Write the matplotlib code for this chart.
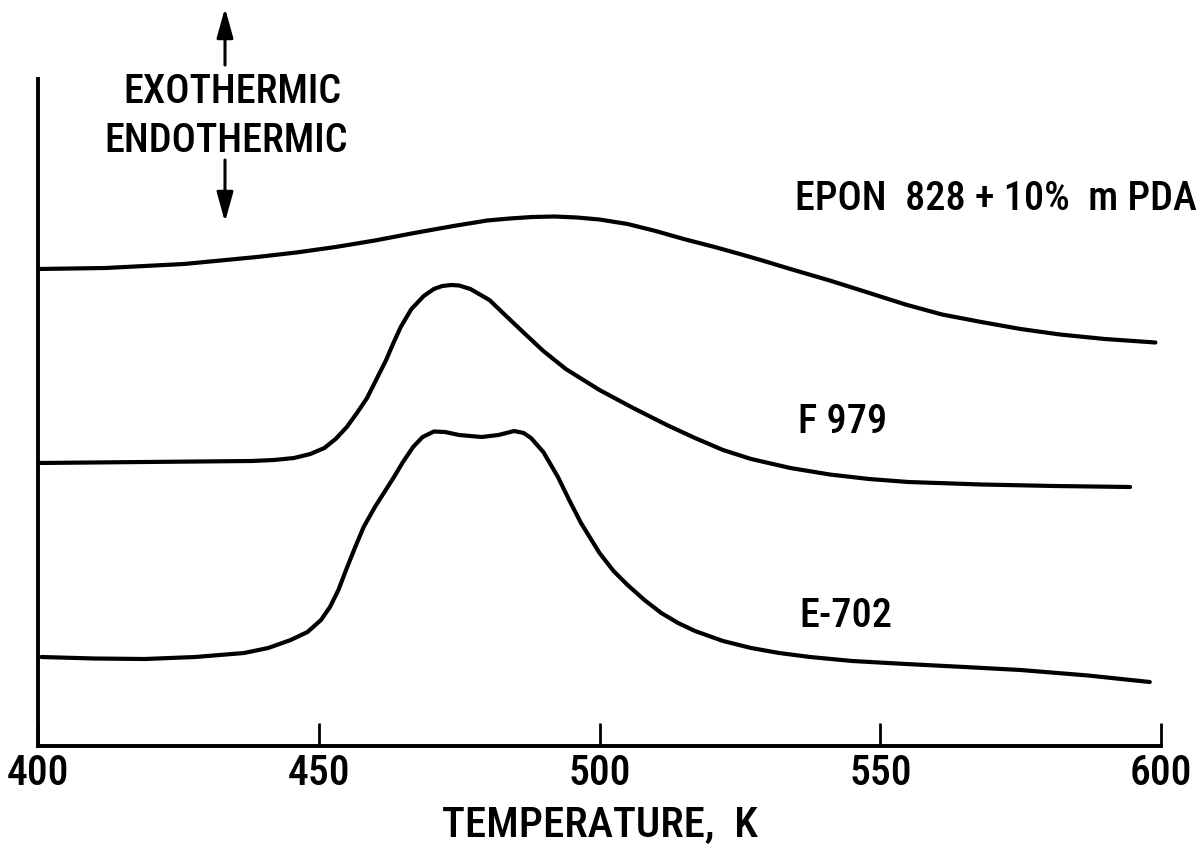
import matplotlib
matplotlib.use("Agg")
import matplotlib.pyplot as plt
from matplotlib import font_manager
from matplotlib.font_manager import FontProperties

# ---------------- data ----------------
# temperature in K, DSC signal in arbitrary units (exothermic up)
epon_T = [400, 412, 426, 439, 446, 453, 460, 467, 474, 480, 484, 488, 492, 496,
          500, 505, 510, 515, 520.5, 525, 529, 534, 541, 547.5, 554.5, 561,
          568, 575, 582, 590, 599]
epon_S = [477, 478, 482, 489, 493.5, 499, 505.5, 513, 520, 525.5, 527.5, 529,
          529.5, 528.5, 526.5, 522, 515, 507, 499, 492, 485.5, 477, 465.5, 454,
          441.5, 431.5, 424, 417, 411.5, 407, 403.5]

f979_T = [400, 419, 438, 442, 445.6, 448.5, 451, 453, 455, 456.8, 458.6, 460.3,
          462, 463.3, 464.6, 466.5, 468.7, 470.5, 472, 473.6, 475, 477, 480.4,
          483, 486, 490, 494, 500, 506, 512, 517, 522, 527, 534, 541, 548, 555,
          568, 581, 594.5]
f979_S = [283, 284, 285, 286, 288, 292, 298, 307, 319, 333, 348, 367, 386, 403,
          419, 437, 450, 457, 460, 461, 460.5, 457, 446, 432, 416, 395, 377, 356,
          338, 321, 308, 296, 287, 278, 271.5, 267, 264, 261.5, 260, 259]

e702_T = [400.6, 410, 419, 428, 436.7, 441, 445, 448, 450.4, 452, 453.5, 455,
          456.5, 458, 460, 461.7, 463.4, 465, 466.8, 468.5, 470.5, 472.5, 475,
          479, 482, 484.8, 486.5, 487.8, 490, 492.6, 494.6, 496.7, 500, 502.5,
          505, 508, 511, 514, 517, 522, 527, 532, 537.5, 545, 554.6, 565, 575,
          587, 598]
e702_S = [89, 87.5, 87, 89, 93, 98, 106, 114, 126, 139, 156, 178, 199, 219, 239,
          254, 269, 284, 299, 309, 314.5, 314, 311, 309, 311, 315, 313, 308, 294,
          269, 246, 223, 193, 175, 161, 146, 133, 123, 115, 105, 98, 93, 89, 85,
          82, 79, 76, 70.5, 64]

x_ticks = [400, 450, 500, 550, 600]
x_label = "TEMPERATURE,  K"
curve_labels = ["EPON  828 + 10%  m PDA", "F 979", "E-702"]
direction_labels = ["EXOTHERMIC", "ENDOTHERMIC"]

# ---------------- font: prefer a condensed sans, medium weight ----------------
def pick_condensed():
    best, best_score = None, None
    pref = ["roboto condensed", "open sans condensed", "noto sans",
            "liberation sans narrow", "dejavu sans", "lato", "inter"]
    for f in font_manager.fontManager.ttflist:
        fn = f.fname.lower()
        nm = f.name.lower()
        cond = ("condensed" in fn or "narrow" in fn or "condensed" in nm
                or "narrow" in nm or str(f.stretch) in ("condensed", "semi-condensed",
                                                         "extra-condensed"))
        if not cond:
            continue
        if "mono" in fn or "italic" in fn or "oblique" in fn or f.style != "normal":
            continue
        if "serif" in nm and "sans" not in nm:
            continue
        semi = 1 if ("semicondensed" in fn or "semi" in str(f.stretch)) else 0
        try:
            w = int(f.weight)
        except Exception:
            w = font_manager.weight_dict.get(str(f.weight), 400)
        rank = len(pref)
        for i, p in enumerate(pref):
            if nm.startswith(p):
                rank = i
                break
        score = (rank, abs(w - 480), semi)
        if best_score is None or score < best_score:
            best, best_score = f, score
    return best

cf = pick_condensed()
W, H = 1201, 860

def fp(size):
    if cf is not None:
        return FontProperties(fname=cf.fname, size=size)
    return FontProperties(family=["Liberation Sans", "DejaVu Sans"], size=size * 0.9)

fig = plt.figure(figsize=(W / 100, H / 100), dpi=100)
ax = fig.add_axes([38 / W, 1 - 746 / H, (1161 - 38) / W, (746 - 79) / H])

lw = 3.0
for T, S in [(epon_T, epon_S), (f979_T, f979_S), (e702_T, e702_S)]:
    ax.plot(T, S, color="black", lw=lw, solid_joinstyle="round",
            solid_capstyle="round", clip_on=False)

ax.set_xlim(400, 600)
ax.set_ylim(0, 667)
for s in ["top", "right"]:
    ax.spines[s].set_visible(False)
for s in ["left", "bottom"]:
    ax.spines[s].set_linewidth(2.8)
ax.set_yticks([])
ax.set_xticks(x_ticks)
ax.set_xticklabels([str(t) for t in x_ticks])
for lab in ax.get_xticklabels():
    lab.set_fontproperties(fp(30))
ax.tick_params(axis="x", direction="in", length=16.5, width=2.0, pad=5)

def px(x, y):
    return x / W, 1 - y / H

fig.text(*px(600, 836), x_label, fontproperties=fp(31), ha="center", va="baseline")
fig.text(*px(232, 103), direction_labels[0], fontproperties=fp(29), ha="center", va="baseline")
fig.text(*px(226, 152), direction_labels[1], fontproperties=fp(29), ha="center", va="baseline")
fig.text(*px(1197, 210), curve_labels[0], fontproperties=fp(29), ha="right", va="baseline")
fig.text(*px(798, 433), curve_labels[1], fontproperties=fp(29), ha="left", va="baseline")
fig.text(*px(799, 627), curve_labels[2], fontproperties=fp(29), ha="left", va="baseline")

arrow_kw = dict(arrowstyle="-|>,head_length=0.9,head_width=0.25",
                color="black", lw=2.2, mutation_scale=20,
                shrinkA=0, shrinkB=0)
ax.annotate("", xy=(225, H - 8), xytext=(225, H - 65),
            xycoords="figure pixels", textcoords="figure pixels",
            arrowprops=arrow_kw, annotation_clip=False)
ax.annotate("", xy=(225, H - 222), xytext=(225, H - 160),
            xycoords="figure pixels", textcoords="figure pixels",
            arrowprops=arrow_kw, annotation_clip=False)

fig.savefig("out.png", dpi=100)
